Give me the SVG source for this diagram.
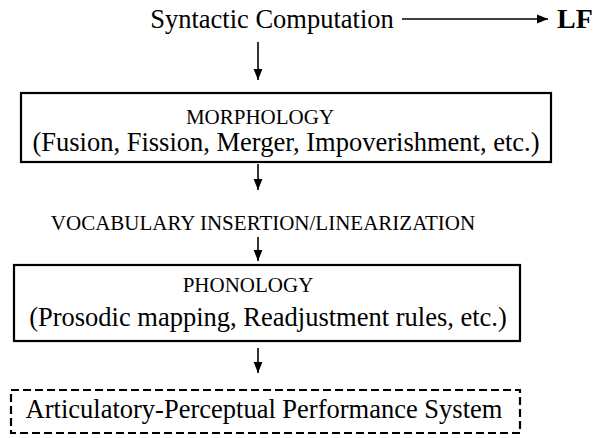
<svg xmlns="http://www.w3.org/2000/svg" width="612" height="438" viewBox="0 0 612 438">
<defs>
<marker id="ah" viewBox="0 0 10 10" refX="10" refY="5" markerWidth="11" markerHeight="11" markerUnits="userSpaceOnUse" orient="auto">
<path d="M0,1 L10,5 L0,9 Z" fill="#000"/>
</marker>
</defs>
<style>
.big{font-size:26.5px}
.cap{font-size:21px}
.box{fill:none;stroke:#000;stroke-width:2.2}
.dash{fill:none;stroke:#000;stroke-width:2.2;stroke-dasharray:8,4}
.c{stroke:#000;stroke-width:1.6;fill:none}
</style>
<g font-family="'Liberation Serif', 'DejaVu Serif', serif" fill="#000">
<g id="syntax"><text class="big" x="272" y="28" text-anchor="middle">Syntactic Computation</text></g>
<g id="lf"><text x="557" y="28" font-size="28" font-weight="bold">LF</text></g>
<g id="morphology">
<rect class="box" x="21" y="93" width="530" height="69"/>
<text class="cap" x="260" y="124" text-anchor="middle">MORPHOLOGY</text>
<text class="big" x="286" y="151" text-anchor="middle">(Fusion, Fission, Merger, Impoverishment, etc.)</text>
</g>
<g id="vocab"><text class="cap" x="263" y="230" text-anchor="middle">VOCABULARY INSERTION/LINEARIZATION</text></g>
<g id="phonology">
<rect class="box" x="14" y="265" width="506" height="76"/>
<text class="cap" x="248" y="292" text-anchor="middle">PHONOLOGY</text>
<text class="big" x="268" y="326" text-anchor="middle">(Prosodic mapping, Readjustment rules, etc.)</text>
</g>
<g id="apps">
<rect class="dash" x="11" y="390" width="509" height="43"/>
<text class="big" x="264" y="418" text-anchor="middle">Articulatory-Perceptual Performance System</text>
</g>
</g>
<g id="connectors">
<line class="c" x1="402" y1="19" x2="548" y2="19" marker-end="url(#ah)"/>
<line class="c" x1="258" y1="42" x2="258" y2="80" marker-end="url(#ah)"/>
<line class="c" x1="258" y1="164" x2="258" y2="190" marker-end="url(#ah)"/>
<line class="c" x1="258" y1="237" x2="258" y2="261" marker-end="url(#ah)"/>
<line class="c" x1="258" y1="348" x2="258" y2="373" marker-end="url(#ah)"/>
</g>
</svg>
